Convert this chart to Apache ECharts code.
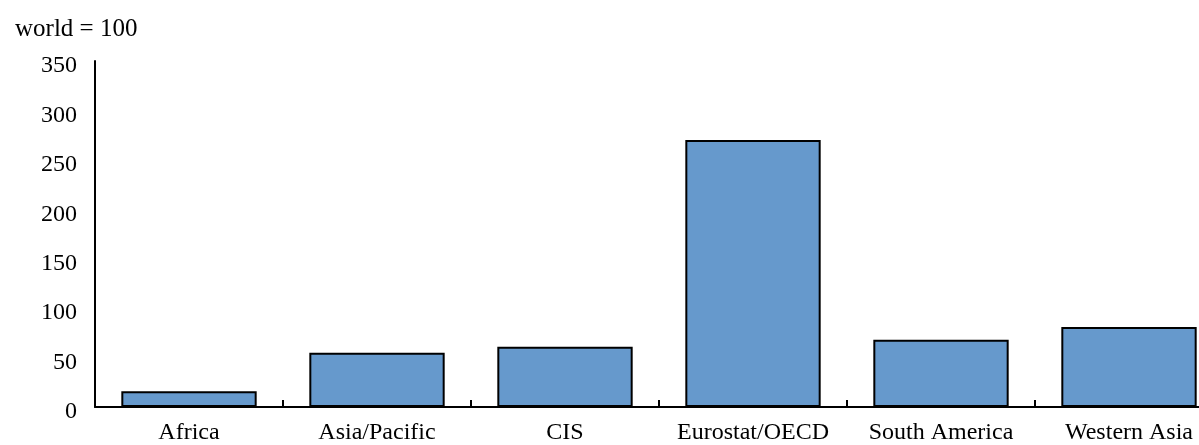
<!DOCTYPE html>
<html>
<head>
<meta charset="utf-8">
<script src="https://cdn.jsdelivr.net/npm/echarts@6/dist/echarts.min.js"></script>
<style>
  html, body { margin: 0; padding: 0; background: #fff; overflow: hidden; }
  /* the plot runs a little past the right edge of the window */
  #chart { width: 1223px; height: 445px; }
</style>
</head>
<body>
<div id="chart"></div>
<script>
// Regions compared against the world average (world = 100)
const regions = ['Africa', 'Asia/Pacific', 'CIS', 'Eurostat/OECD', 'South America', 'Western Asia'];
const indexValues = [16, 55, 61, 270, 68, 81];
const yTicks = { min: 0, max: 350, step: 50 };
const unitLabel = 'world = 100';

const FONT = '"Liberation Serif", "DejaVu Serif", serif';

const chart = echarts.init(document.getElementById('chart'), null, { renderer: 'canvas' });
chart.setOption({
  animation: false,
  backgroundColor: '#ffffff',
  title: {
    text: unitLabel,
    left: 10,
    top: 12,
    textStyle: { fontFamily: FONT, fontSize: 25, fontWeight: 'normal', color: '#000' }
  },
  grid: { left: 95, top: 61, right: 0, bottom: 36, containLabel: false },
  xAxis: {
    type: 'category',
    data: regions,
    axisLine: { lineStyle: { color: '#000', width: 2 } },
    axisTick: { show: true, inside: true, length: 7, alignWithLabel: false, lineStyle: { color: '#000', width: 2 } },
    axisLabel: { fontFamily: FONT, fontSize: 24, color: '#000', margin: 14, interval: 0 }
  },
  yAxis: {
    type: 'value',
    min: yTicks.min,
    max: yTicks.max,
    interval: yTicks.step,
    axisLine: { show: true, lineStyle: { color: '#000', width: 2 } },
    axisTick: { show: false },
    splitLine: { show: false },
    axisLabel: {
      fontFamily: FONT, fontSize: 24, color: '#000', margin: 18,
      formatter: '{v|{value}}',
      rich: { v: { fontFamily: FONT, fontSize: 24, color: '#000', padding: [10, 0, 0, 0] } }
    }
  },
  series: [{
    type: 'bar',
    data: indexValues,
    barWidth: '72%',
    itemStyle: { color: '#6699cc', borderColor: '#000', borderWidth: 2 }
  }]
});
</script>
</body>
</html>
